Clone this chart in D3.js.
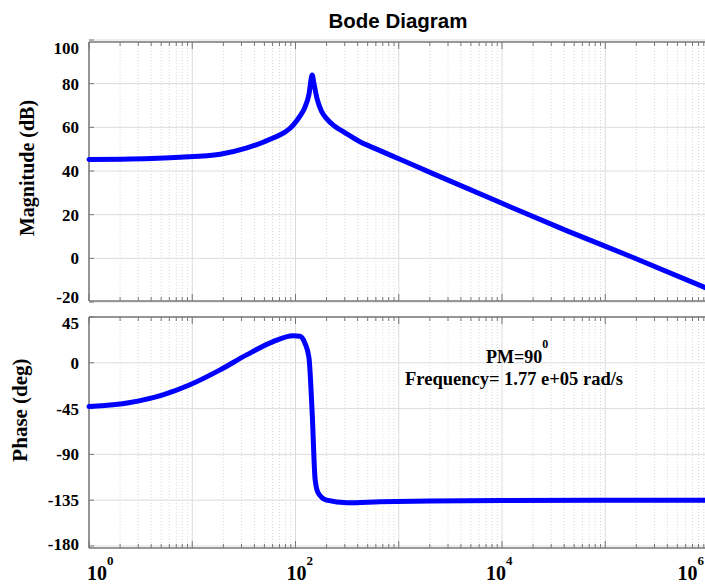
<!DOCTYPE html>
<html>
<head>
<meta charset="utf-8">
<script src="https://cdn.jsdelivr.net/npm/d3@7"></script>
<style>
  body { margin: 0; background: #fff; }
  .tick-label { font-family: "Liberation Serif", "Times New Roman", serif; font-weight: bold; font-size: 17px; fill: #000; }
</style>
</head>
<body>
<div id="chart"></div>
<script>
// frequency (rad/s) and magnitude (dB)
var magFreq = [1, 2.5, 7.6, 18.6, 33.9, 56, 95, 110, 123, 135, 145, 151, 162, 178, 200, 240, 302, 417, 617, 1000, 2140, 10000, 42700, 186000, 1000000];
var magDb   = [45.3, 45.5, 46.3, 47.7, 50.6, 54.4, 61, 65, 69, 75, 84, 80, 73, 67.5, 64, 60.5, 57.5, 53.5, 49.9, 45.6, 38.8, 25.2, 12.6, 0.4, -14];

// frequency (rad/s) and phase (deg)
var phFreq = [1, 2.5, 5.2, 9.5, 18.6, 33.9, 60, 95, 110, 123, 135, 145, 155, 166, 200, 316, 661, 2000, 10000, 1000000];
var phDeg  = [-43, -39, -31.5, -21.6, -7, 8, 20.6, 26.5, 26, 19.6, 5, -49, -115, -128, -135, -137.5, -136.6, -135.8, -135.3, -135];

var magTicks = [-20, 0, 20, 40, 60, 80, 100];
var phTicks = [-180, -135, -90, -45, 0, 45];
var decades = [1, 100, 10000, 1000000];
var decadeExp = ["0", "2", "4", "6"];

var W = 705, H = 587;
var svg = d3.select("#chart")
  .append("svg")
  .attr("width", W)
  .attr("height", H);

svg.append("rect").attr("width", W).attr("height", H).attr("fill", "#fff");

// Scales
var x = d3.scaleLog()
  .domain([1, 1e6])
  .range([89, 708.5]);

var yMag = d3.scaleLinear()
  .domain([-20, 100])
  .range([302, 40]);

var yPh = d3.scaleLinear()
  .domain([-182, 45])
  .range([548, 317]);

// minor positions 2..9 per decade + decades
var minor = [];
for (var e = 0; e < 6; e++) {
  for (var k = 2; k <= 9; k++) minor.push(k * Math.pow(10, e));
}
var allDecades = [1, 10, 100, 1000, 10000, 100000, 1000000];

function drawPanel(y, ticks, vals, freqs, top, bottom) {
  var g = svg.append("g");

  // minor grid (dotted)
  g.selectAll(".minor-grid")
    .data(minor)
    .enter().append("line")
    .attr("x1", d => x(d)).attr("x2", d => x(d))
    .attr("y1", top).attr("y2", bottom)
    .attr("stroke", "#d8d8d8")
    .attr("stroke-dasharray", "1,2")
    .attr("stroke-width", 1);

  // major vertical grid
  g.selectAll(".major-vgrid")
    .data(allDecades)
    .enter().append("line")
    .attr("x1", d => x(d)).attr("x2", d => x(d))
    .attr("y1", top).attr("y2", bottom)
    .attr("stroke", "#dcdcdc")
    .attr("stroke-width", 1);

  // horizontal grid
  g.selectAll(".hgrid")
    .data(ticks)
    .enter().append("line")
    .attr("x1", x.range()[0]).attr("x2", x.range()[1])
    .attr("y1", d => y(d)).attr("y2", d => y(d))
    .attr("stroke", "#dcdcdc")
    .attr("stroke-width", 1);

  // box lines (top, left, bottom)
  g.append("line")
    .attr("x1", x.range()[0]).attr("x2", x.range()[1])
    .attr("y1", top).attr("y2", top)
    .attr("stroke", "#777").attr("stroke-width", 1.5);
  g.append("line")
    .attr("x1", x.range()[0]).attr("x2", x.range()[1])
    .attr("y1", bottom).attr("y2", bottom)
    .attr("stroke", "#777").attr("stroke-width", 1.5);
  g.append("line")
    .attr("x1", x.range()[0]).attr("x2", x.range()[0])
    .attr("y1", top).attr("y2", bottom)
    .attr("stroke", "#777").attr("stroke-width", 1.5);

  // x ticks top & bottom
  g.selectAll(".xtick-top")
    .data(minor.concat(allDecades))
    .enter().append("line")
    .attr("x1", d => x(d)).attr("x2", d => x(d))
    .attr("y1", top).attr("y2", d => top + (allDecades.indexOf(d) >= 0 ? 7 : 4))
    .attr("stroke", "#777");
  g.selectAll(".xtick-bot")
    .data(minor.concat(allDecades))
    .enter().append("line")
    .attr("x1", d => x(d)).attr("x2", d => x(d))
    .attr("y1", bottom).attr("y2", d => bottom - (allDecades.indexOf(d) >= 0 ? 7 : 4))
    .attr("stroke", "#777");

  // y ticks
  g.selectAll(".ytick")
    .data(ticks)
    .enter().append("line")
    .attr("x1", x.range()[0]).attr("x2", x.range()[0] + 5)
    .attr("y1", d => y(d)).attr("y2", d => y(d))
    .attr("stroke", "#777");

  // y tick labels
  g.selectAll(".ylabel")
    .data(ticks)
    .enter().append("text")
    .attr("class", "tick-label")
    .attr("x", 79)
    .attr("y", d => Math.max(top + 6, Math.min(bottom - 4, y(d))))
    .attr("dy", "0.35em")
    .attr("text-anchor", "end")
    .text(d => d);

  // curve
  var line = d3.line()
    .x(d => x(d[0]))
    .y(d => y(d[1]))
    .curve(d3.curveMonotoneX);

  g.append("path")
    .datum(freqs.map((f, i) => [f, vals[i]]))
    .attr("d", line)
    .attr("fill", "none")
    .attr("stroke", "#0000ff")
    .attr("stroke-width", 5)
    .attr("stroke-linejoin", "round")
    .attr("stroke-linecap", "round");
}

drawPanel(yMag, magTicks, magDb, magFreq, 42, 301);
drawPanel(yPh, phTicks, phDeg, phFreq, 317, 548);

// x tick labels 10^n
var xl = svg.selectAll(".xlabel")
  .data(decades)
  .enter().append("text")
  .attr("class", "tick-label")
  .style("font-size", "20px")
  .attr("x", (d, i) => x(d) - 2 - i * 7)
  .attr("y", 580)
  .attr("text-anchor", "start");
xl.append("tspan").text("10");
xl.append("tspan")
  .attr("dy", -15)
  .style("font-size", "13px")
  .text((d, i) => decadeExp[i]);

// keep the last label inside the picture
xl.each(function() {
  var w = this.getComputedTextLength();
  var x0 = +d3.select(this).attr("x");
  if (x0 + w > W - 1) d3.select(this).attr("x", W - 1 - w);
});

// Title
svg.append("text")
  .attr("x", 398)
  .attr("y", 28)
  .attr("text-anchor", "middle")
  .style("font-family", "'Liberation Sans', Arial, sans-serif")
  .style("font-weight", "bold")
  .style("font-size", "20.5px")
  .text("Bode Diagram");

// Axis titles
svg.append("text")
  .attr("class", "tick-label")
  .style("font-size", "20px")
  .attr("transform", "translate(34,168) rotate(-90)")
  .attr("text-anchor", "middle")
  .text("Magnitude (dB)");

svg.append("text")
  .attr("class", "tick-label")
  .style("font-size", "21px")
  .attr("transform", "translate(27,410) rotate(-90)")
  .attr("text-anchor", "middle")
  .text("Phase (deg)");

// Annotation
var pm = svg.append("text")
  .attr("class", "tick-label")
  .style("font-size", "18px")
  .attr("x", 486)
  .attr("y", 363);
pm.append("tspan").text("PM=90");
pm.append("tspan").attr("dy", -15).style("font-size", "12px").text("0");

svg.append("text")
  .attr("class", "tick-label")
  .style("font-size", "18.5px")
  .attr("x", 405)
  .attr("y", 385)
  .text("Frequency= 1.77 e+05 rad/s");
</script>
</body>
</html>
